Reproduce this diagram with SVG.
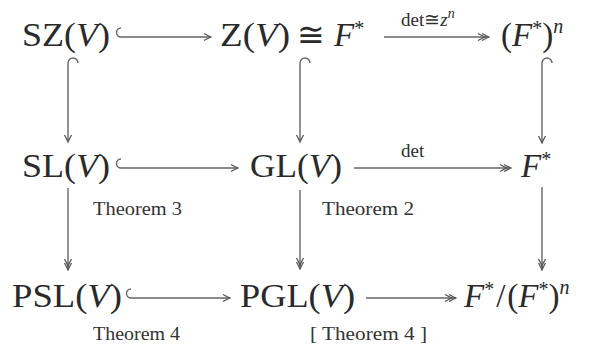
<svg xmlns="http://www.w3.org/2000/svg" width="608" height="344" viewBox="0 0 608 344">
<style>
.m{font-family:"Liberation Serif","Times New Roman",serif;font-size:33px;fill:#2a2a2a}
.i{font-style:italic}
.s{font-size:20px}
.lb{font-family:"Liberation Serif","Times New Roman",serif;font-size:19px;fill:#2e2e2e}
.th{font-family:"Liberation Serif","Times New Roman",serif;font-size:18px;fill:#333}
.c{fill:none;stroke:#666;stroke-width:1.4}
</style>
<defs>
<marker id="ah" viewBox="-9 -5 10 10" refX="0" refY="0" markerWidth="10" markerHeight="10" markerUnits="userSpaceOnUse" orient="auto">
<path d="M-7,-3.5 Q-2,-0.8 0,0 Q-2,0.8 -7,3.5" fill="none" stroke="#555" stroke-width="1.3"/>
</marker>
<marker id="ah2" viewBox="-13 -5 14 10" refX="0" refY="0" markerWidth="14" markerHeight="10" markerUnits="userSpaceOnUse" orient="auto">
<path d="M-7,-3.5 Q-2,-0.8 0,0 Q-2,0.8 -7,3.5 M-11,-3.5 Q-6,-0.8 -4,0 Q-6,0.8 -11,3.5" fill="none" stroke="#555" stroke-width="1.3"/>
</marker>
</defs>
<rect width="608" height="344" fill="#fff"/>

<g id="connectors">
<path class="c" d="M121,28 A4.5,4.5 0 0 0 121,37 L211,37" marker-end="url(#ah)"/>
<path class="c" d="M384,37 L489,37" marker-end="url(#ah2)"/>
<path class="c" d="M121,159 A4.5,4.5 0 0 0 121,168 L238,168" marker-end="url(#ah)"/>
<path class="c" d="M354,168 L511,168" marker-end="url(#ah2)"/>
<path class="c" d="M131,289 A4.5,4.5 0 0 0 131,298 L230,298" marker-end="url(#ah)"/>
<path class="c" d="M366,298 L456,298" marker-end="url(#ah2)"/>
<path class="c" d="M78,63 A5,5 0 0 0 68,63 L68,142" marker-end="url(#ah)"/>
<path class="c" d="M310,63 A5,5 0 0 0 300,63 L300,142" marker-end="url(#ah)"/>
<path class="c" d="M552,63 A5,5 0 0 0 542,63 L542,143" marker-end="url(#ah)"/>
<path class="c" d="M68,188 L68,270" marker-end="url(#ah2)"/>
<path class="c" d="M300,190 L300,269" marker-end="url(#ah2)"/>
<path class="c" d="M542,187 L542,270" marker-end="url(#ah2)"/>
</g>

<g id="labels">
<text class="lb" font-family="Liberation Serif, serif" x="401" y="26">det≅<tspan class="i">z</tspan><tspan class="i" font-size="14" dy="-8">n</tspan></text>
<text class="lb" font-family="Liberation Serif, serif" x="401" y="157">det</text>
<text class="th" font-family="Liberation Serif, serif" x="93" y="215" textLength="89" lengthAdjust="spacingAndGlyphs">Theorem 3</text>
<text class="th" font-family="Liberation Serif, serif" x="322" y="215" textLength="92" lengthAdjust="spacingAndGlyphs">Theorem 2</text>
<text class="th" font-family="Liberation Serif, serif" x="93" y="340" textLength="87" lengthAdjust="spacingAndGlyphs">Theorem 4</text>
<text class="th" font-family="Liberation Serif, serif" x="310" y="340" textLength="117" lengthAdjust="spacingAndGlyphs">[ Theorem 4 ]</text>
</g>

<g id="node-SZ">
<text class="m" x="22" y="46" textLength="88" lengthAdjust="spacingAndGlyphs">SZ(<tspan class="i">V</tspan>)</text>
</g>
<g id="node-Z">
<text class="m" x="220" y="46" textLength="70" lengthAdjust="spacingAndGlyphs">Z(<tspan class="i">V</tspan>)</text>
<text class="m" x="297" y="46" font-size="30">≅</text>
<text class="m" x="334" y="46"><tspan class="i">F</tspan><tspan class="s" dy="-11">*</tspan></text>
</g>
<g id="node-Fn">
<text class="m" x="501" y="46">(<tspan class="i">F</tspan><tspan class="s" dy="-11">*</tspan><tspan dy="11">)</tspan><tspan class="i s" dy="-13">n</tspan></text>
</g>
<g id="node-SL">
<text class="m" x="22" y="177" textLength="88" lengthAdjust="spacingAndGlyphs">SL(<tspan class="i">V</tspan>)</text>
</g>
<g id="node-GL">
<text class="m" x="250" y="177" textLength="92" lengthAdjust="spacingAndGlyphs">GL(<tspan class="i">V</tspan>)</text>
</g>
<g id="node-F">
<text class="m" x="521" y="177"><tspan class="i">F</tspan><tspan class="s" dy="-11">*</tspan></text>
</g>
<g id="node-PSL">
<text class="m" x="12" y="307" textLength="110" lengthAdjust="spacingAndGlyphs">PSL(<tspan class="i">V</tspan>)</text>
</g>
<g id="node-PGL">
<text class="m" x="240" y="307" textLength="115" lengthAdjust="spacingAndGlyphs">PGL(<tspan class="i">V</tspan>)</text>
</g>
<g id="node-Q">
<text class="m" x="464" y="307"><tspan class="i">F</tspan><tspan class="s" dy="-11">*</tspan><tspan dy="11" dx="2">/</tspan><tspan dx="2">(</tspan><tspan class="i">F</tspan><tspan class="s" dy="-11">*</tspan><tspan dy="11">)</tspan><tspan class="i s" dy="-13">n</tspan></text>
</g>
</svg>
